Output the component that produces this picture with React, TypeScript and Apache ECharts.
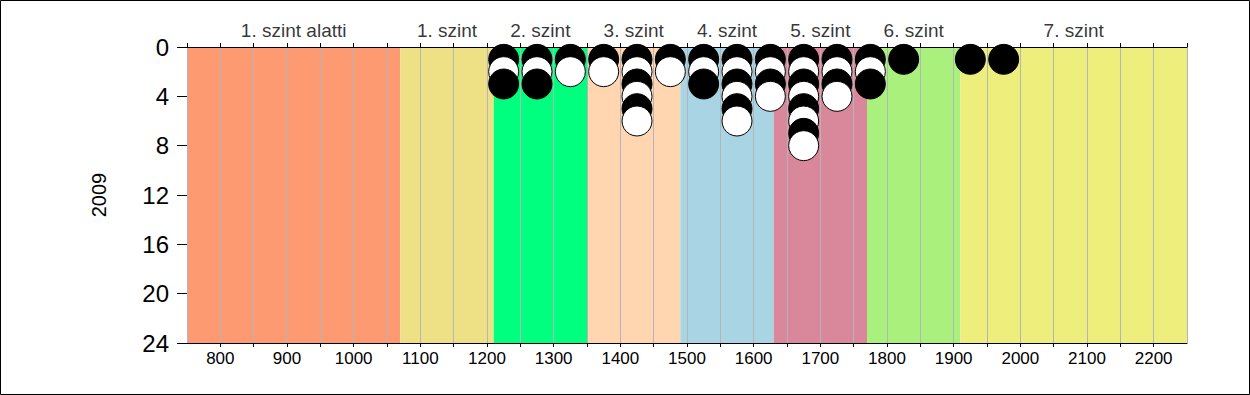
import React, { useEffect, useRef } from "react";
import * as echarts from "echarts";

// Score bins (x) and the stacked dots in each bin, top to bottom (B = black, W = white)
const scoreBins = [1225, 1275, 1325, 1375, 1425, 1475, 1525, 1575, 1625, 1675, 1725, 1775, 1825, 1925, 1975];
const dotStacks = ["BWB", "BWB", "BW", "BW", "BWBWBW", "BW", "BWB", "BWBWBW", "BWBW", "BWBWBWBW", "BWBW", "BWB", "B", "B", "B"];

// Level bands
const bandStarts = [750, 1070, 1210, 1350, 1490, 1630, 1770, 1910];
const bandEnds = [1070, 1210, 1350, 1490, 1630, 1770, 1910, 2250];
const bandColors = ["#FE9A72", "#EEE185", "#00FF7F", "#FFD6B0", "#A8D4E4", "#D8889A", "#AAF07C", "#EEEE7C"];
const levelNames = ["1. szint alatti", "1. szint", "2. szint", "3. szint", "4. szint", "5. szint", "6. szint", "7. szint"];
const levelLabelPos = [910, 1140, 1280, 1420, 1560, 1700, 1840, 2080];

const yTicks = [0, 4, 8, 12, 16, 20, 24];
const yearLabel = "2009";

const FONT = "Arial, 'Liberation Sans', sans-serif";

export default function App() {
  const ref = useRef<HTMLDivElement>(null);
  useEffect(() => {
    if (!ref.current) return;
    const chart = echarts.init(ref.current, null, { renderer: "svg" });

    const dots: any[] = [];
    scoreBins.forEach((x, i) => {
      const s = dotStacks[i];
      for (let k = 0; k < s.length; k++) {
        const black = s[k] === "B";
        dots.push({
          value: [x, k + 1],
          itemStyle: {
            color: black ? "#000000" : "#FFFFFF",
            borderColor: "#000000",
            borderWidth: 1,
            opacity: 1,
          },
        });
      }
    });

    const bandData = bandStarts.map((s, i) => [s, bandEnds[i], i]);

    const option: any = {
      animation: false,
      backgroundColor: "#FFFFFF",
      textStyle: { fontFamily: FONT },
      grid: { left: 187, right: 63, top: 47, bottom: 52 },
      xAxis: [
        {
          type: "value",
          position: "bottom",
          min: 750,
          max: 2250,
          interval: 50,
          z: 3,
          axisLine: { show: true, onZero: false, lineStyle: { color: "#000", width: 1 } },
          axisTick: { show: true, length: 4, lineStyle: { color: "#000" } },
          splitLine: { show: true, lineStyle: { color: "#B4B4BC", width: 1 } },
          axisLabel: {
            color: "#000",
            fontSize: 17,
            fontFamily: FONT,
            margin: 7,
            showMinLabel: false,
            showMaxLabel: false,
            formatter: (v: number) => (v % 100 === 0 ? String(v) : ""),
          },
        },
        {
          type: "value",
          position: "top",
          min: 750,
          max: 2250,
          interval: 50,
          z: 3,
          axisLine: { show: true, onZero: false, lineStyle: { color: "#000", width: 1 } },
          axisTick: { show: true, length: 4, lineStyle: { color: "#000" } },
          splitLine: { show: false },
          axisLabel: { show: false },
        },
      ],
      yAxis: {
        type: "value",
        inverse: true,
        min: yTicks[0],
        max: yTicks[yTicks.length - 1],
        interval: 4,
        name: yearLabel,
        nameLocation: "middle",
        nameRotate: 90,
        nameGap: 78,
        nameTextStyle: { color: "#000", fontSize: 20, fontFamily: FONT },
        axisLine: { show: true, lineStyle: { color: "#000", width: 1 } },
        axisTick: { show: true, length: 10, lineStyle: { color: "#000" } },
        splitLine: { show: false },
        axisLabel: { color: "#000", fontSize: 24, margin: 18, fontFamily: FONT },
      },
      graphic: [
        {
          type: "rect",
          silent: true,
          shape: { x: 0.5, y: 0.5, width: 1249, height: 394 },
          style: { fill: "none", stroke: "#000", lineWidth: 1 },
          z: 100,
        },
      ],
      series: [
        {
          type: "custom",
          z: 1,
          silent: true,
          data: bandData,
          encode: { x: [0, 1] },
          renderItem: (params: any, api: any) => {
            const p0 = api.coord([api.value(0), 0]);
            const p1 = api.coord([api.value(1), 24]);
            return {
              type: "rect",
              shape: { x: p0[0], y: p0[1], width: p1[0] - p0[0], height: p1[1] - p0[1] },
              style: { fill: bandColors[api.value(2)] },
            };
          },
        },
        {
          type: "scatter",
          z: 2,
          silent: true,
          symbolSize: 1,
          itemStyle: { color: "rgba(0,0,0,0)" },
          clip: false,
          data: levelNames.map((n, i) => ({ value: [levelLabelPos[i], 0], name: n })),
          label: {
            show: true,
            position: "top",
            distance: 7,
            formatter: (p: any) => p.name,
            color: "#000",
            fontSize: 19,
            fontFamily: FONT,
          },
        },
        {
          type: "scatter",
          z: 5,
          silent: true,
          symbol: "circle",
          symbolSize: 30,
          itemStyle: { opacity: 1 },
          data: dots,
        },
      ],
    };
    chart.setOption(option);
    return () => chart.dispose();
  }, []);

  return (
    <div
      ref={ref}
      style={{ position: "absolute", left: 0, top: 0, width: 1250, height: 395 }}
    />
  );
}
